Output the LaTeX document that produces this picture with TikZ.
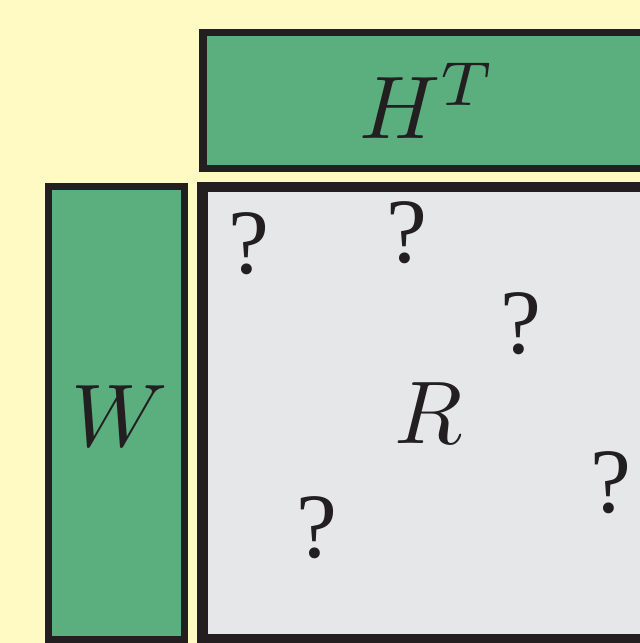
\documentclass[tikz,border=0pt]{standalone}
\usepackage{graphicx}
\usepackage{fontspec}
\newfontfamily\qfont{Liberation Serif}
\usepackage{xcolor}
\definecolor{bgcream}{HTML}{FFF9C4}
\definecolor{factorgreen}{HTML}{5BAF7F}
\definecolor{inkdark}{HTML}{231F20}
\definecolor{matgrey}{HTML}{E6E7E9}
\newcommand{\bigmath}[1]{\scalebox{8.9}{$#1$}}
\tikzset{
  factorbox/.style={draw=inkdark, fill=factorgreen, line width=7.2pt},
  matrixbox/.style={draw=inkdark, fill=matgrey, line width=10.6pt},
  bigsym/.style={inner sep=0pt, text=inkdark, anchor=base},
  unknown/.style={inner sep=0pt, text=inkdark, font=\qfont\fontsize{92}{92}\selectfont, anchor=base},
}
\begin{document}
\begin{tikzpicture}[x=1pt, y=-1pt]
  % canvas
  \fill[bgcream] (0,0) rectangle (640,643);
  \useasboundingbox (0,0) rectangle (640,643);
  \clip (0,0) rectangle (640,643);
  % factor H^T (top) and W (left), ratings matrix R
  \draw[factorbox] (202.9,32.6) rectangle (720,168.1);
  \draw[factorbox] (48.6,186.3) rectangle (184.1,639.7);
  \draw[matrixbox] (202.6,187.0) rectangle (720,639.2);
  % labels
  \node[bigsym] (ht) at (428,138) {\bigmath{H^T}};
  \node[bigsym] (w) at (120,446) {\bigmath{W}};
  \node[bigsym] (r) at (429,443) {\bigmath{R}};
  % unknown entries
  \node[unknown] (q1) at (249,273) {?};
  \node[unknown] (q2) at (407,262) {?};
  \node[unknown] (q3) at (521,353) {?};
  \node[unknown] (q4) at (611,512) {?};
  \node[unknown] (q5) at (317,557) {?};
\end{tikzpicture}
\end{document}
